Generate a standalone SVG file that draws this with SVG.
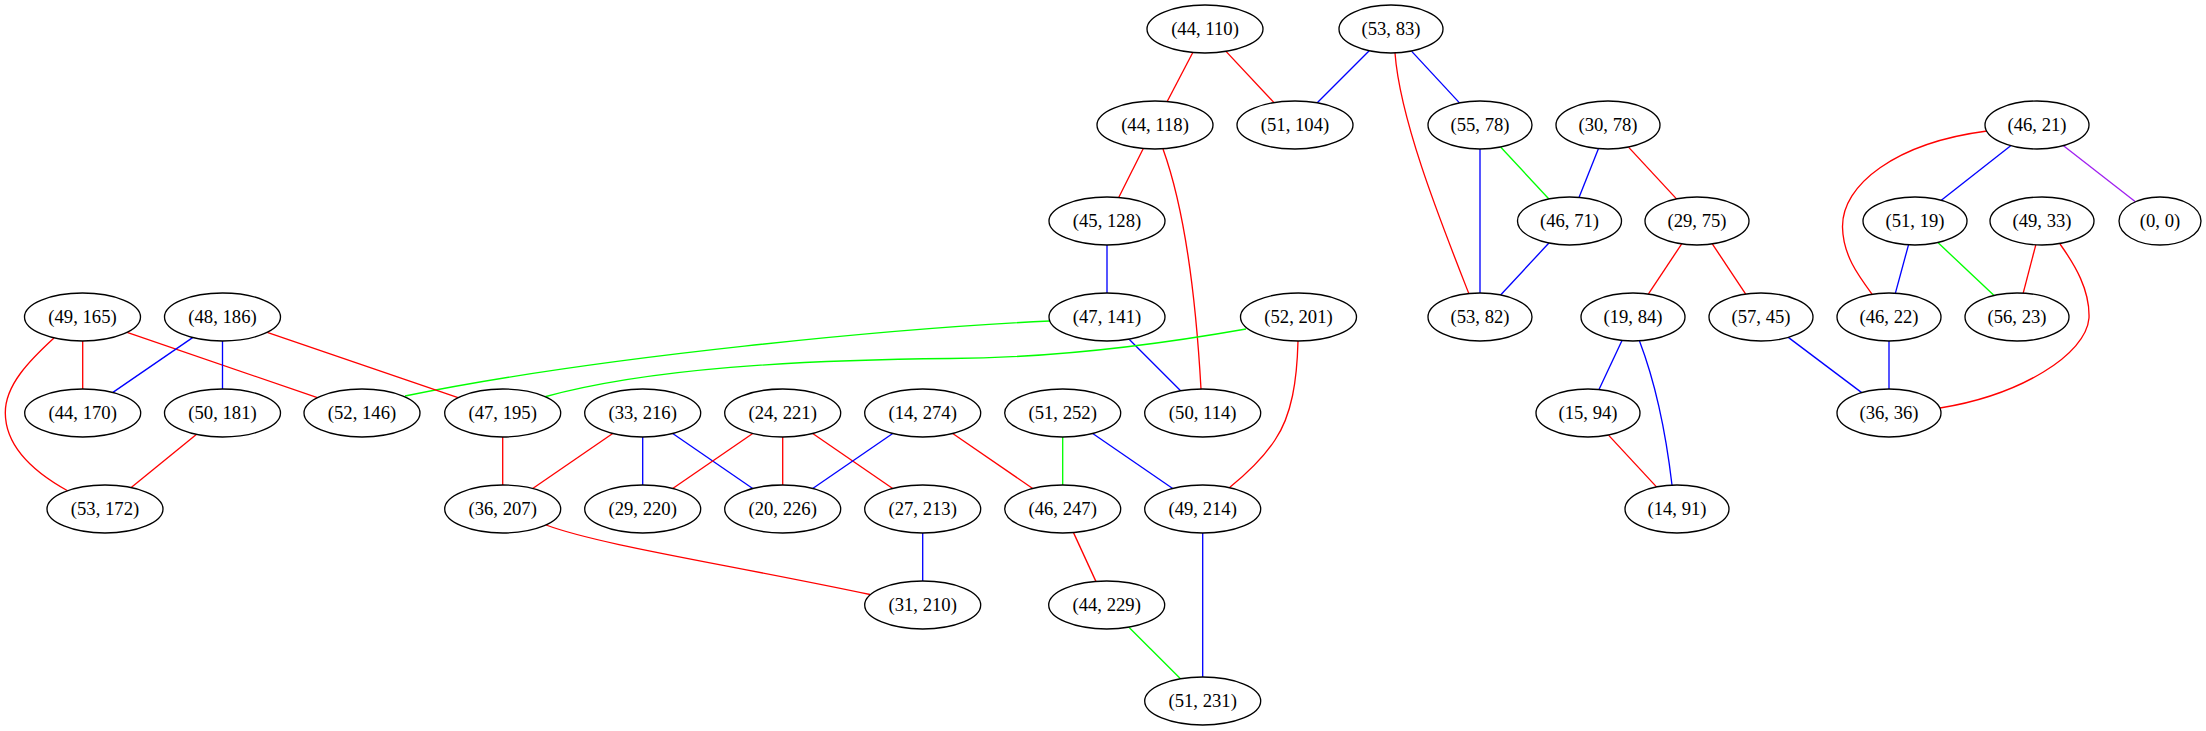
<svg xmlns="http://www.w3.org/2000/svg" width="2206" height="731" viewBox="0 0 2206 731">
<style>
.n ellipse{fill:#fff;stroke:#000;stroke-width:1.33}
.n text{font-family:"Liberation Serif","Times New Roman",serif;font-size:18.67px;text-anchor:middle;fill:#000}
#edges path,#edges line{fill:none;stroke-width:1.33}
.r{stroke:#ff0000}.b{stroke:#0000ff}.g{stroke:#00ff00}.p{stroke:#a020f0}
</style>
<rect width="2206" height="731" fill="#fff"/>
<g id="edges">
<line class="r" x1="1192.8" y1="52.5" x2="1167.2" y2="101.5"/>
<line class="r" x1="1226" y1="51.4" x2="1274" y2="102.6"/>
<line class="b" x1="1369.2" y1="50.8" x2="1317.2" y2="102.8"/>
<line class="b" x1="1411.5" y1="51.1" x2="1459.5" y2="102.9"/>
<path class="r" d="M1395,53 C1400,120 1440,220 1469,294"/>
<line class="r" x1="1143.3" y1="148.5" x2="1118.7" y2="197.5"/>
<path class="r" d="M1163,149 C1185,210 1196,300 1201,389"/>
<line class="b" x1="1107" y1="245" x2="1107" y2="293"/>
<path class="g" d="M1050,321 C900,328 600,356 405,396"/>
<line class="b" x1="1129.1" y1="339.2" x2="1180.6" y2="390.8"/>
<path class="g" d="M1246,329 C1150,346 1050,358 950,358.5 C800,360 650,368 544,397"/>
<path class="r" d="M1298,341 C1297,380 1292,415 1275,440 C1262,460 1245,475 1229,488"/>
<line class="b" x1="1480" y1="149" x2="1480" y2="293"/>
<line class="g" x1="1500.6" y1="147" x2="1548.9" y2="199"/>
<line class="b" x1="1598.5" y1="148.6" x2="1579" y2="197.4"/>
<line class="r" x1="1628.5" y1="147.1" x2="1676.5" y2="198.9"/>
<line class="b" x1="1548.9" y1="243" x2="1500.6" y2="295"/>
<line class="r" x1="1681.7" y1="243.9" x2="1648.3" y2="294.1"/>
<line class="r" x1="1712.3" y1="243.9" x2="1745.7" y2="294.1"/>
<line class="b" x1="1622" y1="340.5" x2="1599" y2="389.5"/>
<path class="b" d="M1639.5,341 Q1662,400 1672,485"/>
<line class="r" x1="1608.5" y1="435.1" x2="1656.5" y2="486.9"/>
<line class="b" x1="1788.3" y1="337.4" x2="1861.7" y2="392.6"/>
<line class="b" x1="2010.7" y1="145.7" x2="1941.3" y2="200.3"/>
<line class="p" x1="2063.5" y1="145.7" x2="2135.4" y2="201.8"/>
<path class="r" d="M1987,131 C1895,143 1842,185 1842.5,227 C1843,255 1858,275 1872,294"/>
<line class="b" x1="1908.5" y1="244.8" x2="1895.4" y2="293.2"/>
<line class="g" x1="1937.9" y1="242.6" x2="1994.1" y2="295.5"/>
<line class="r" x1="2035.8" y1="244.8" x2="2023.2" y2="293.2"/>
<path class="r" d="M2060,244 C2075,265 2090,290 2089,318 C2086,355 2020,395 1940,408"/>
<line class="b" x1="1889" y1="341" x2="1889" y2="389"/>
<line class="r" x1="82.7" y1="341" x2="82.7" y2="389"/>
<line class="r" x1="127.1" y1="332.3" x2="317.4" y2="397.7"/>
<path class="r" d="M54,338 C30,360 5,385 5.3,413 C5.5,445 30,470 68,491"/>
<line class="b" x1="192.6" y1="337.6" x2="112.9" y2="392.4"/>
<line class="b" x1="222.5" y1="341" x2="222.5" y2="389"/>
<line class="r" x1="267.2" y1="332.3" x2="458" y2="397.7"/>
<line class="r" x1="196.3" y1="434.4" x2="131.2" y2="487.6"/>
<line class="r" x1="502.7" y1="437" x2="502.7" y2="485"/>
<line class="r" x1="612.7" y1="433.5" x2="532.7" y2="488.5"/>
<line class="b" x1="642.7" y1="437" x2="642.7" y2="485"/>
<line class="b" x1="672.7" y1="433.5" x2="752.7" y2="488.5"/>
<line class="r" x1="752.7" y1="433.5" x2="672.7" y2="488.5"/>
<line class="r" x1="782.7" y1="437" x2="782.7" y2="485"/>
<line class="r" x1="812.7" y1="433.5" x2="892.7" y2="488.5"/>
<line class="b" x1="892.7" y1="433.5" x2="812.7" y2="488.5"/>
<line class="r" x1="952.7" y1="433.5" x2="1032.7" y2="488.5"/>
<line class="b" x1="922.7" y1="533" x2="922.7" y2="581"/>
<line class="g" x1="1062.7" y1="437" x2="1062.7" y2="485"/>
<line class="b" x1="1092.7" y1="433.5" x2="1172.7" y2="488.5"/>
<line class="r" x1="1073.5" y1="532.6" x2="1095.9" y2="581.4"/>
<line class="g" x1="1128.9" y1="627.2" x2="1180.5" y2="678.8"/>
<line class="b" x1="1202.7" y1="533" x2="1202.7" y2="677"/>
<path class="r" d="M546,525 C600,545 720,563 870,594.5"/>
</g>
<g id="n44_110" class="n"><ellipse cx="1205" cy="29" rx="58" ry="24"/><text x="1205" y="35">(44, 110)</text></g>
<g id="n53_83" class="n"><ellipse cx="1391" cy="29" rx="52" ry="24"/><text x="1391" y="35">(53, 83)</text></g>
<g id="n44_118" class="n"><ellipse cx="1155" cy="125" rx="58" ry="24"/><text x="1155" y="131">(44, 118)</text></g>
<g id="n51_104" class="n"><ellipse cx="1295" cy="125" rx="58" ry="24"/><text x="1295" y="131">(51, 104)</text></g>
<g id="n55_78" class="n"><ellipse cx="1480" cy="125" rx="52" ry="24"/><text x="1480" y="131">(55, 78)</text></g>
<g id="n30_78" class="n"><ellipse cx="1608" cy="125" rx="52" ry="24"/><text x="1608" y="131">(30, 78)</text></g>
<g id="n46_21" class="n"><ellipse cx="2037" cy="125" rx="52" ry="24"/><text x="2037" y="131">(46, 21)</text></g>
<g id="n45_128" class="n"><ellipse cx="1107" cy="221" rx="58" ry="24"/><text x="1107" y="227">(45, 128)</text></g>
<g id="n46_71" class="n"><ellipse cx="1569.5" cy="221" rx="52" ry="24"/><text x="1569.5" y="227">(46, 71)</text></g>
<g id="n29_75" class="n"><ellipse cx="1697" cy="221" rx="52" ry="24"/><text x="1697" y="227">(29, 75)</text></g>
<g id="n51_19" class="n"><ellipse cx="1915" cy="221" rx="52" ry="24"/><text x="1915" y="227">(51, 19)</text></g>
<g id="n49_33" class="n"><ellipse cx="2042" cy="221" rx="52" ry="24"/><text x="2042" y="227">(49, 33)</text></g>
<g id="n0_0" class="n"><ellipse cx="2160" cy="221" rx="41" ry="24"/><text x="2160" y="227">(0, 0)</text></g>
<g id="n49_165" class="n"><ellipse cx="82.5" cy="317" rx="58" ry="24"/><text x="82.5" y="323">(49, 165)</text></g>
<g id="n48_186" class="n"><ellipse cx="222.5" cy="317" rx="58" ry="24"/><text x="222.5" y="323">(48, 186)</text></g>
<g id="n47_141" class="n"><ellipse cx="1107" cy="317" rx="58" ry="24"/><text x="1107" y="323">(47, 141)</text></g>
<g id="n52_201" class="n"><ellipse cx="1298.5" cy="317" rx="58" ry="24"/><text x="1298.5" y="323">(52, 201)</text></g>
<g id="n53_82" class="n"><ellipse cx="1480" cy="317" rx="52" ry="24"/><text x="1480" y="323">(53, 82)</text></g>
<g id="n19_84" class="n"><ellipse cx="1633" cy="317" rx="52" ry="24"/><text x="1633" y="323">(19, 84)</text></g>
<g id="n57_45" class="n"><ellipse cx="1761" cy="317" rx="52" ry="24"/><text x="1761" y="323">(57, 45)</text></g>
<g id="n46_22" class="n"><ellipse cx="1889" cy="317" rx="52" ry="24"/><text x="1889" y="323">(46, 22)</text></g>
<g id="n56_23" class="n"><ellipse cx="2017" cy="317" rx="52" ry="24"/><text x="2017" y="323">(56, 23)</text></g>
<g id="n44_170" class="n"><ellipse cx="82.7" cy="413" rx="58" ry="24"/><text x="82.7" y="419">(44, 170)</text></g>
<g id="n50_181" class="n"><ellipse cx="222.5" cy="413" rx="58" ry="24"/><text x="222.5" y="419">(50, 181)</text></g>
<g id="n52_146" class="n"><ellipse cx="362" cy="413" rx="58" ry="24"/><text x="362" y="419">(52, 146)</text></g>
<g id="n47_195" class="n"><ellipse cx="502.7" cy="413" rx="58" ry="24"/><text x="502.7" y="419">(47, 195)</text></g>
<g id="n33_216" class="n"><ellipse cx="642.7" cy="413" rx="58" ry="24"/><text x="642.7" y="419">(33, 216)</text></g>
<g id="n24_221" class="n"><ellipse cx="782.7" cy="413" rx="58" ry="24"/><text x="782.7" y="419">(24, 221)</text></g>
<g id="n14_274" class="n"><ellipse cx="922.7" cy="413" rx="58" ry="24"/><text x="922.7" y="419">(14, 274)</text></g>
<g id="n51_252" class="n"><ellipse cx="1062.7" cy="413" rx="58" ry="24"/><text x="1062.7" y="419">(51, 252)</text></g>
<g id="n50_114" class="n"><ellipse cx="1202.7" cy="413" rx="58" ry="24"/><text x="1202.7" y="419">(50, 114)</text></g>
<g id="n15_94" class="n"><ellipse cx="1588" cy="413" rx="52" ry="24"/><text x="1588" y="419">(15, 94)</text></g>
<g id="n36_36" class="n"><ellipse cx="1889" cy="413" rx="52" ry="24"/><text x="1889" y="419">(36, 36)</text></g>
<g id="n53_172" class="n"><ellipse cx="105" cy="509" rx="58" ry="24"/><text x="105" y="515">(53, 172)</text></g>
<g id="n36_207" class="n"><ellipse cx="502.7" cy="509" rx="58" ry="24"/><text x="502.7" y="515">(36, 207)</text></g>
<g id="n29_220" class="n"><ellipse cx="642.7" cy="509" rx="58" ry="24"/><text x="642.7" y="515">(29, 220)</text></g>
<g id="n20_226" class="n"><ellipse cx="782.7" cy="509" rx="58" ry="24"/><text x="782.7" y="515">(20, 226)</text></g>
<g id="n27_213" class="n"><ellipse cx="922.7" cy="509" rx="58" ry="24"/><text x="922.7" y="515">(27, 213)</text></g>
<g id="n46_247" class="n"><ellipse cx="1062.7" cy="509" rx="58" ry="24"/><text x="1062.7" y="515">(46, 247)</text></g>
<g id="n49_214" class="n"><ellipse cx="1202.7" cy="509" rx="58" ry="24"/><text x="1202.7" y="515">(49, 214)</text></g>
<g id="n14_91" class="n"><ellipse cx="1677" cy="509" rx="52" ry="24"/><text x="1677" y="515">(14, 91)</text></g>
<g id="n31_210" class="n"><ellipse cx="922.7" cy="605" rx="58" ry="24"/><text x="922.7" y="611">(31, 210)</text></g>
<g id="n44_229" class="n"><ellipse cx="1106.7" cy="605" rx="58" ry="24"/><text x="1106.7" y="611">(44, 229)</text></g>
<g id="n51_231" class="n"><ellipse cx="1202.7" cy="701" rx="58" ry="24"/><text x="1202.7" y="707">(51, 231)</text></g>
</svg>
